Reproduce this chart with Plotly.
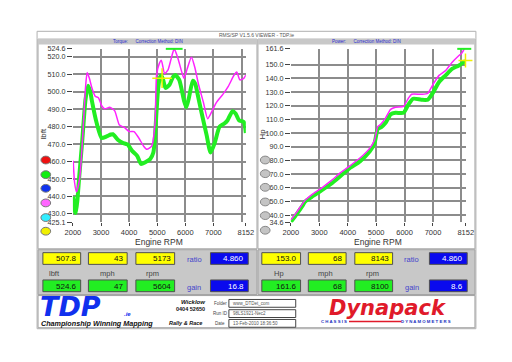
import plotly.graph_objects as go

W, H = 512, 362

# ---------------- data ----------------
tq_rpm_a = [2010, 2060, 2100, 2160, 2218, 2333, 2448, 2540, 2620, 2676, 2850, 3024, 3197, 3350, 3425,
            3597, 3769, 3941, 4114, 4286, 4424, 4575, 4748, 4862, 4921, 4980, 5034, 5100, 5148, 5207,
            5297, 5437, 5560, 5645, 5783, 5955, 6034, 6128, 6266, 6355, 6414, 6586, 6759, 6897, 7045,
            7218, 7390, 7503, 7679, 7793, 7907, 8079, 8152]
tq_a = [440, 432, 430.5, 438, 450, 472, 495.5, 503.5, 500, 494.8, 481.8, 473.5, 474.4, 475.5, 475.7,
        472.5, 470.7, 469.8, 466, 463.3, 458.6, 459.6, 461.4, 465.2, 474.4, 490, 502, 508.5, 509.2, 507,
        502.2, 504, 508.5, 509.6, 506.8, 494.8, 491.1, 496.6, 506.3, 504.5, 500.3, 487.4, 475, 465.2, 470.7,
        480, 481.8, 483.7, 488.9, 487.4, 483.7, 482.7, 476.3]

tq_rpm_b = [2010, 2060, 2127, 2241, 2355, 2448, 2507, 2586, 2676, 2793, 2907, 3024, 3138, 3310, 3483,
            3655, 3828, 4000, 4172, 4345, 4517, 4632, 4804, 4921, 4976, 5069, 5148, 5262, 5379, 5493,
            5604, 5724, 5872, 5955, 6069, 6217, 6334, 6472, 6645, 6793, 6931, 7103, 7335, 7528, 7734,
            7828, 7941, 8079, 8152]
tq_b = [460.5, 448, 442.6, 450.3, 476.3, 502.2, 511, 507.7, 502.2, 497.5, 496.6, 492, 490.2, 491.1, 489.2,
        480.9, 479.6, 477.2, 477.2, 473.5, 468.8, 467, 468.8, 481.8, 509.6, 516, 518, 510.5, 512.4, 518.8,
        524.6, 519.8, 511.4, 507.7, 513.3, 519.8, 514.2, 504, 493.8, 484.6, 488.3, 493.8, 498.5, 503.1, 509.6,
        511.4, 506.8, 507.7, 509.6]

hp_rpm_a = [2000, 2200, 2400, 2500, 2727, 3067, 3408, 3749, 4089, 4430, 4771, 4941, 5057, 5170, 5340,
            5511, 5681, 5964, 6134, 6304, 6590, 6816, 6986, 7214, 7443, 7668, 7896, 8066, 8143]
hp_a = [35.0, 40.5, 46.5, 49.8, 53.2, 57.9, 62.7, 68.6, 74.6, 79.3, 86.4, 92.3, 103, 104.2, 107.7,
        113.7, 114.8, 114.8, 120.8, 125.1, 124.4, 124.4, 129.1, 137.4, 142.2, 146.9, 149.3, 151.6, 153.0]

hp_rpm_b = [2000, 2200, 2400, 2500, 2727, 3067, 3408, 3749, 4089, 4430, 4771, 4941, 5057, 5170, 5340,
            5511, 5681, 5964, 6134, 6248, 6590, 6816, 6986, 7214, 7443, 7668, 7896, 8010, 8100]
hp_b = [36.5, 42, 48, 50.8, 54.8, 59.6, 65, 71, 76.2, 81.7, 88.8, 94.7, 104.7, 106.6, 111.3,
        117.3, 118.9, 119.6, 125.5, 128.4, 128.4, 129.1, 135.1, 142.2, 145.7, 151.6, 156.4, 158.3, 161.6]

x_ticks = [2000, 3000, 4000, 5000, 6000, 7000, 8152]
x_grid = [2000, 3000, 4000, 5000, 6000, 7000, 8000]
tq_ticks = [425.1, 430, 440, 450, 460, 470, 480, 490, 500, 510, 520, 524.6]
tq_grid = [430, 440, 450, 460, 470, 480, 490, 500, 510, 520, 524.6]
hp_ticks = [34.6, 40, 50, 60, 70, 80, 90, 100, 110, 120, 130, 140, 150, 161.6]
hp_grid = [40, 50, 60, 70, 80, 90, 100, 110, 120, 130, 140, 150, 161.6]

# readouts
tq_cursor = [507.8, 43, 5173]
tq_max = [524.6, 47, 5604]
tq_ratio, tq_gain = 4.860, 16.8
hp_cursor = [153.0, 68, 8143]
hp_max = [161.6, 68, 8100]
hp_ratio, hp_gain = 4.860, 8.6

# ---------------- helpers ----------------
def px(x):
    return x / W

def py(y):
    return 1 - y / H

FONT = "Liberation Sans, Arial, sans-serif"
GREEN = "#22ee22"
MAG = "#ff22ff"

fig = go.Figure()

fig.add_trace(go.Scatter(x=tq_rpm_a, y=tq_a, mode="lines", line=dict(color=GREEN, width=4, shape="spline", smoothing=0.6),
                         xaxis="x", yaxis="y", showlegend=False))
fig.add_trace(go.Scatter(x=tq_rpm_b, y=tq_b, mode="lines", line=dict(color=MAG, width=1.5, shape="spline", smoothing=0.6),
                         xaxis="x", yaxis="y", showlegend=False))
fig.add_trace(go.Scatter(x=[tq_cursor[2]], y=[tq_cursor[0]], mode="markers",
                         marker=dict(symbol="cross-thin", size=14, line=dict(color="#f0f000", width=1.5)),
                         xaxis="x", yaxis="y", showlegend=False))
fig.add_trace(go.Scatter(x=[tq_max[2]], y=[tq_max[0]], mode="markers",
                         marker=dict(symbol="line-ew", size=12, line=dict(color=GREEN, width=2)),
                         xaxis="x", yaxis="y", showlegend=False, cliponaxis=False))

fig.add_trace(go.Scatter(x=hp_rpm_a, y=hp_a, mode="lines", line=dict(color=GREEN, width=4, shape="spline", smoothing=0.6),
                         xaxis="x2", yaxis="y2", showlegend=False))
fig.add_trace(go.Scatter(x=hp_rpm_b, y=hp_b, mode="lines", line=dict(color=MAG, width=1.5, shape="spline", smoothing=0.6),
                         xaxis="x2", yaxis="y2", showlegend=False))
fig.add_trace(go.Scatter(x=[hp_cursor[2]], y=[hp_cursor[0]], mode="markers",
                         marker=dict(symbol="cross-thin", size=10, line=dict(color="#f0f000", width=1.5)),
                         xaxis="x2", yaxis="y2", showlegend=False, cliponaxis=False))
fig.add_trace(go.Scatter(x=[hp_max[2]], y=[hp_max[0]], mode="markers",
                         marker=dict(symbol="line-ew", size=10, line=dict(color=GREEN, width=2)),
                         xaxis="x2", yaxis="y2", showlegend=False, cliponaxis=False))

plot_top, plot_bot = 46, 224

def xax(domain, anchor):
    return dict(domain=domain, anchor=anchor, range=[2000, 8152], tickmode="array", tickvals=x_ticks,
                ticktext=[str(v) for v in x_ticks], showgrid=False, zeroline=False, ticks="outside",
                ticklen=3, tickcolor="#444", tickfont=dict(family=FONT, size=7.5, color="#333"),
                showline=False,
                minor=dict(tickmode="array", tickvals=x_grid, showgrid=True, gridcolor="#8c8c8c", gridwidth=1.5, ticks=""))

def yax(domain, anchor, rng, ticks, grid):
    return dict(domain=domain, anchor=anchor, range=rng, tickmode="array", tickvals=ticks,
                ticktext=["%.1f" % v for v in ticks], showgrid=False, zeroline=False, ticks="outside",
                ticklen=5, tickcolor="#444", tickfont=dict(family=FONT, size=7.2, color="#333"),
                showline=False,
                minor=dict(tickmode="array", tickvals=grid, showgrid=True, gridcolor="#8c8c8c", gridwidth=1.5, ticks=""))

ydom = [py(plot_bot), py(plot_top)]
fig.update_layout(
    margin=dict(l=0, r=0, t=0, b=0), autosize=True,
    paper_bgcolor="white", plot_bgcolor="white",
    xaxis=xax([px(67), px(245.5)], "y"),
    yaxis=yax(ydom, "x", [425.1, 524.6], tq_ticks, tq_grid),
    xaxis2=xax([px(292), px(472.5)], "y2"),
    yaxis2=yax(ydom, "x2", [34.6, 161.6], hp_ticks, hp_grid),
)

shapes = []
ann = []

def rect(x0, y0, x1, y1, fill=None, line="#a0a0a0", lw=1, layer="below"):
    shapes.append(dict(type="rect", xref="paper", yref="paper", x0=px(x0), x1=px(x1), y0=py(y1), y1=py(y0),
                       fillcolor=fill if fill else "rgba(0,0,0,0)", line=dict(color=line, width=lw), layer=layer))

def text(x, y, s, size=8, color="#333", xanchor="center", angle=0, family=FONT):
    ann.append(dict(xref="paper", yref="paper", x=px(x), y=py(y), text=s, showarrow=False, xanchor=xanchor,
                    yanchor="middle", textangle=angle, font=dict(family=family, size=size, color=color)))

# window frame
rect(30, 28, 483, 333, None, "#b0b0b0", 1)
text(256, 31.5, "RMS/SP V1.5.6 VIEWER - TDP.ie", 5, "#555")
# chart panels
rect(31, 36, 257, 251, "white", "#a8a8a8", 1)
rect(258, 36, 482, 251, "white", "#a8a8a8", 1)
rect(31, 36, 257, 41.5, "#c8c8c8", "#c8c8c8", 0)
rect(258, 36, 482, 41.5, "#c8c8c8", "#c8c8c8", 0)
text(145, 38.8, "Torque:      Correction Method: DIN", 4.5, "#2a2ad0")
text(370, 38.8, "Power:      Correction Method: DIN", 4.5, "#2a2ad0")

# axis titles
text(37, 133, "lbft", 8, "#333", angle=-90)
text(263, 133, "Hp", 8, "#333", angle=-90)
text(156, 244, "Engine RPM", 8.5, "#333")
text(382, 244, "Engine RPM", 8.5, "#333")

# legend ellipses
for yc, col in zip([160, 175, 189, 204, 219, 233], ["#ee1111", "#11ee11", "#1133ee", "#ff66ff", "#33eeff", "#f0f000"]):
    shapes.append(dict(type="circle", xref="paper", yref="paper", x0=px(34), x1=px(44), y0=py(yc + 4), y1=py(yc - 4),
                       fillcolor=col, line=dict(color="#777", width=1)))
for yc in [160, 174, 188, 203, 217, 232]:
    shapes.append(dict(type="circle", xref="paper", yref="paper", x0=px(260.5), x1=px(270.5), y0=py(yc + 4), y1=py(yc - 4),
                       fillcolor="#c4c4c4", line=dict(color="#888", width=1)))

# readout panels
rect(31, 252, 257, 298, "#c8c8c8", "#a0a0a0", 1)
rect(258, 252, 482, 298, "#c8c8c8", "#a0a0a0", 1)

def box(x0, x1, y0, y1, fill, s, tcol="#111"):
    rect(x0, y0, x1, y1, fill, "#505050", 1, "above")
    text(x1 - 2, (y0 + y1) / 2 + 0.5, s, 8, tcol, xanchor="right")

def fmt(v, dec):
    return ("%." + str(dec) + "f") % v

lx = [(36, 75), (83, 123), (132, 172)]
rx = [(262, 302), (310, 349), (358, 397)]
decs = [1, 0, 0]
for (a, b), v, d in zip(lx, tq_cursor, decs):
    box(a, b, 255, 267, "#ffff00", fmt(v, d))
for (a, b), v, d in zip(lx, tq_max, decs):
    box(a, b, 283, 295, "#22ee22", fmt(v, d))
for (a, b), v, d in zip(rx, hp_cursor, decs):
    box(a, b, 255, 267, "#ffff00", fmt(v, d))
for (a, b), v, d in zip(rx, hp_max, decs):
    box(a, b, 283, 295, "#22ee22", fmt(v, d))
box(209, 248, 255, 267, "#0a0aee", fmt(tq_ratio, 3), "white")
box(209, 248, 283, 295, "#0a0aee", fmt(tq_gain, 1), "white")
box(435, 474, 255, 267, "#0a0aee", fmt(hp_ratio, 3), "white")
box(435, 474, 283, 295, "#0a0aee", fmt(hp_gain, 1), "white")
for xc, s in [(192, "ratio"), (417, "ratio")]:
    text(xc, 262, s, 7.5, "#4444cc")
for xc, s in [(192, "gain"), (417, "gain")]:
    text(xc, 290.5, s, 7.5, "#4444cc")
for xc, s in [(48, "lbft"), (103, "mph"), (149, "rpm"), (280, "Hp"), (328, "mph"), (376, "rpm")]:
    text(xc, 276, s, 7.5, "#444")

# logo strip
rect(31, 299, 482, 332, "white", "#a0a0a0", 1)
text(31, 310, "<b><i>TDP</i></b>", 27, "#1030ee", xanchor="left", family="DejaVu Sans, sans-serif")
text(118, 318, "<b><i>.ie</i></b>", 6, "#1030ee", xanchor="left")
text(32, 327.5, "<b><i>Championship Winning Mapping</i></b>", 7.2, "#111", xanchor="left")
text(164, 327.5, "<b><i>Rally &amp; Race</i></b>", 5.5, "#111", xanchor="left")
text(205, 306, "<b><i>Wicklow</i></b>", 6, "#111", xanchor="right")
text(205, 313, "<b>0404 52650</b>", 5.5, "#111", xanchor="right")
for yc, lab, val in [(307, "Folder", "www_DTDet_com"), (317.5, "Run ID", "98LS1921-Nec2"), (327.5, "Date", "13-Feb-2010 18:36:50")]:
    text(219, yc, lab, 4.5, "#444", xanchor="center")
    rect(228, yc - 4, 297, yc + 4, "white", "#444", 1, "above")
    text(230, yc, val, 4.5, "#555", xanchor="left")
text(392, 311.5, "<b><i>Dynapack</i></b>", 21, "#e01a2a", family="DejaVu Sans, sans-serif")
text(336, 326, "<b>C H A S S I S</b>", 4.3, "#1a30c0")
text(431, 326, "<b>D Y N A M O M E T E R S</b>", 4.3, "#1a30c0")
shapes.append(dict(type="line", xref="paper", yref="paper", x0=px(352), x1=px(406), y0=py(325.5), y1=py(325.5),
                   line=dict(color="#e01a2a", width=1.5)))

fig.update_layout(shapes=shapes, annotations=ann)
fig.write_html("out.html", default_width="100vw", default_height="100vh",
               config={"responsive": True, "displayModeBar": False},
               post_script="document.body.style.margin='0';document.body.style.overflow='hidden';"
                           "document.documentElement.style.overflow='hidden';")
